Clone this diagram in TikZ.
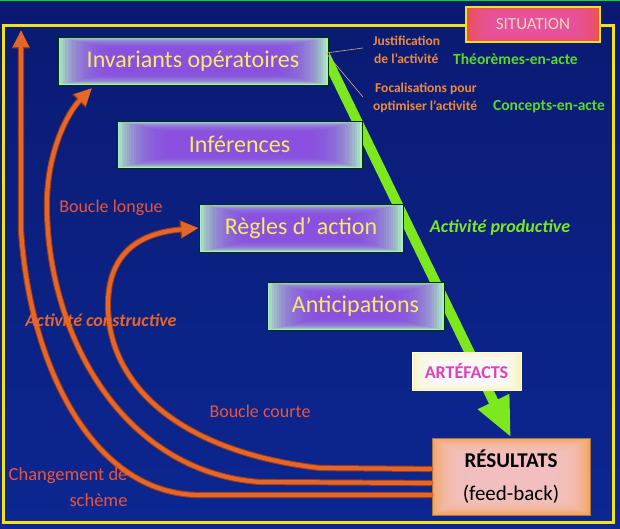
\documentclass[tikz,border=0pt]{standalone}
\usepackage{fontspec}
\setmainfont{Carlito}
\usetikzlibrary{arrows.meta,calc}

\definecolor{bgtop}{HTML}{0A1A72}
\definecolor{bgmid}{HTML}{1434A6}
\definecolor{bgbot}{HTML}{0C2792}
\definecolor{frameyel}{HTML}{F2E21C}
\definecolor{mint}{HTML}{ABEFBC}
\definecolor{violet}{HTML}{8A4CE6}
\definecolor{boxtext}{HTML}{F6EA6A}
\definecolor{lime}{HTML}{7EE81F}
\definecolor{lblgreen}{HTML}{5ED62A}
\definecolor{lblorange}{HTML}{F08A3A}
\definecolor{loop}{HTML}{E5662B}
\definecolor{loopdark}{HTML}{9A3C14}
\definecolor{looptext}{HTML}{E8553A}
\definecolor{sitred}{HTML}{F0504A}
\definecolor{sitpink}{HTML}{E658A8}
\definecolor{sittext}{HTML}{F8D8B0}
\definecolor{resorange}{HTML}{F2A55E}
\definecolor{respink}{HTML}{F5C5C8}
\definecolor{artcream}{HTML}{F8F2B8}
\definecolor{artpink}{HTML}{E040B8}
\definecolor{leader}{HTML}{D0B070}

\tikzset{
  % soft rectangular glow: many translucent nested rectangles
  glowbox/.style n args={4}{
    fill=#1,
    path picture={
      \foreach \i in {1,...,22}{
        \fill[#2,opacity=0.13]
          ($(path picture bounding box.south west)+(\i*#3,\i*#4)$) rectangle
          ($(path picture bounding box.north east)-(\i*#3,\i*#4)$);
      }
    }
  },
  concept/.style={glowbox={mint}{violet}{2.4pt}{0.55pt}, draw=black!80!green, line width=0.8pt,
    text=boxtext, font=\fontsize{24}{28}\selectfont, inner sep=0pt},
  loopline/.style={draw=loop, line width=4.2pt, line cap=round,
    -{Triangle[length=17pt,width=15pt]},
    preaction={draw=loopdark, line width=6.2pt, -{Triangle[length=18.5pt,width=17.5pt]}}},
  looplabel/.style={text=looptext, font=\fontsize{18}{22}\selectfont},
  leaderline/.style={draw=leader, line width=0.6pt},
  smalllbl/.style={text=lblorange, font=\bfseries\fontsize{13.5}{16}\selectfont, anchor=west, inner sep=0pt},
  greenlbl/.style={text=lblgreen, font=\bfseries\fontsize{15.5}{18}\selectfont, anchor=west, inner sep=0pt}
}

\begin{document}
\begin{tikzpicture}[x=1pt,y=-1pt]
\useasboundingbox (0,0) rectangle (620,529);

% dark blue backdrop
\shade[top color=bgtop, middle color=bgmid, bottom color=bgbot] (0,0) rectangle (620,529);
\draw[green!90!black, line width=1.5pt] (0,0.75) -- (620,0.75);

% situation frame
\draw[frameyel, line width=2.5pt] (3.5,25.5) rectangle (613.5,522.5);

% results box and the productive activity arrow (concept boxes sit on top)
\node[glowbox={resorange}{respink}{1.6pt}{0.9pt}, draw=resorange!70!black, line width=1pt,
  minimum width=158pt, minimum height=77pt, inner sep=0pt, align=center,
  font=\fontsize{21}{33}\selectfont] (res) at (511,476.5)
  {\textbf{RÉSULTATS}\\(feed-back)};
\coordinate (gstart) at (325,55);
\draw[lime, line width=10pt, -{Triangle[length=40pt,width=32pt]}] (gstart) -- (res.north);

% concept boxes
\node[concept, minimum width=270pt, minimum height=48pt] (inv) at (193,61) {Invariants opératoires};
\node[concept, minimum width=245pt, minimum height=47pt] (inf) at (239.5,144.5) {Inférences};
\node[concept, minimum width=204pt, minimum height=48pt] (regles) at (301,228) {Règles d’ action};
\node[concept, minimum width=177pt, minimum height=48pt] (anti) at (355.5,306) {Anticipations};

\node[glowbox={artcream}{white}{1.2pt}{0.5pt}, draw=white!85!yellow, line width=0.8pt,
  minimum width=109pt, minimum height=38pt, inner sep=0pt,
  text=artpink, font=\bfseries\fontsize{18}{22}\selectfont] (art) at (466.5,371) {ARTÉFACTS};

\node[glowbox={sitred}{sitpink}{1.8pt}{0.45pt}, draw=frameyel, line width=2.8pt,
  minimum width=134pt, minimum height=35pt, inner sep=0pt,
  text=sittext, font=\fontsize{17}{20}\selectfont] (sit) at (533,24.5) {SITUATION};

\node[text=lime, font=\bfseries\itshape\fontsize{18}{22}\selectfont] (prod) at (500,228) {Activité productive};

% annotations of the operational invariants
\coordinate (lorig) at (326,53);
\coordinate (ljust) at (363,48);
\coordinate (lfoc) at (363,97);
\draw[leaderline] (lorig) -- (ljust);
\draw[leaderline] (lorig) -- (lfoc);
\node[smalllbl] (just1) at (373,41) {Justification};
\node[smalllbl] (just2) at (374,59) {de l’activité};
\node[greenlbl] (theo) at (453,59) {Théorèmes-en-acte};
\node[smalllbl] (foc1) at (375,89) {Focalisations pour};
\node[smalllbl] (foc2) at (373,107) {optimiser l’activité};
\node[greenlbl] (conc) at (493,107) {Concepts-en-acte};

% feedback loops
\coordinate (cA) at ($(res.west)+(0,18.5)$);
\coordinate (cB) at ($(res.west)+(0,6.5)$);
\coordinate (cC) at ($(res.west)+(0,-7.5)$);
\coordinate (tipA) at (21,30);
\coordinate (tipB) at (92,88);

\draw[loopline] (cA) -- (200,495) .. controls (95,495) and (30,370) .. (21,230) -- (tipA);
\draw[loopline] (cB) -- (260,482) .. controls (120,472) and (45,330) .. (47,200)
  .. controls (48,150) and (68,112) .. (tipB);
\draw[loopline] (cC) -- (320,468) .. controls (180,452) and (108,385) .. (108,305)
  .. controls (108,245) and (150,232) .. (regles.west);

\node[looplabel] (blong) at (111,208) {Boucle longue};
\node[looplabel] (bcourt) at (260,411) {Boucle courte};
\node[text=loop, font=\bfseries\itshape\fontsize{18}{22}\selectfont] (constr) at (101,320) {Activité constructive};
\node[looplabel, align=right, anchor=east, font=\fontsize{18.5}{26}\selectfont] (chg) at (131,487) {Changement de\\schème};
\end{tikzpicture}
\end{document}
